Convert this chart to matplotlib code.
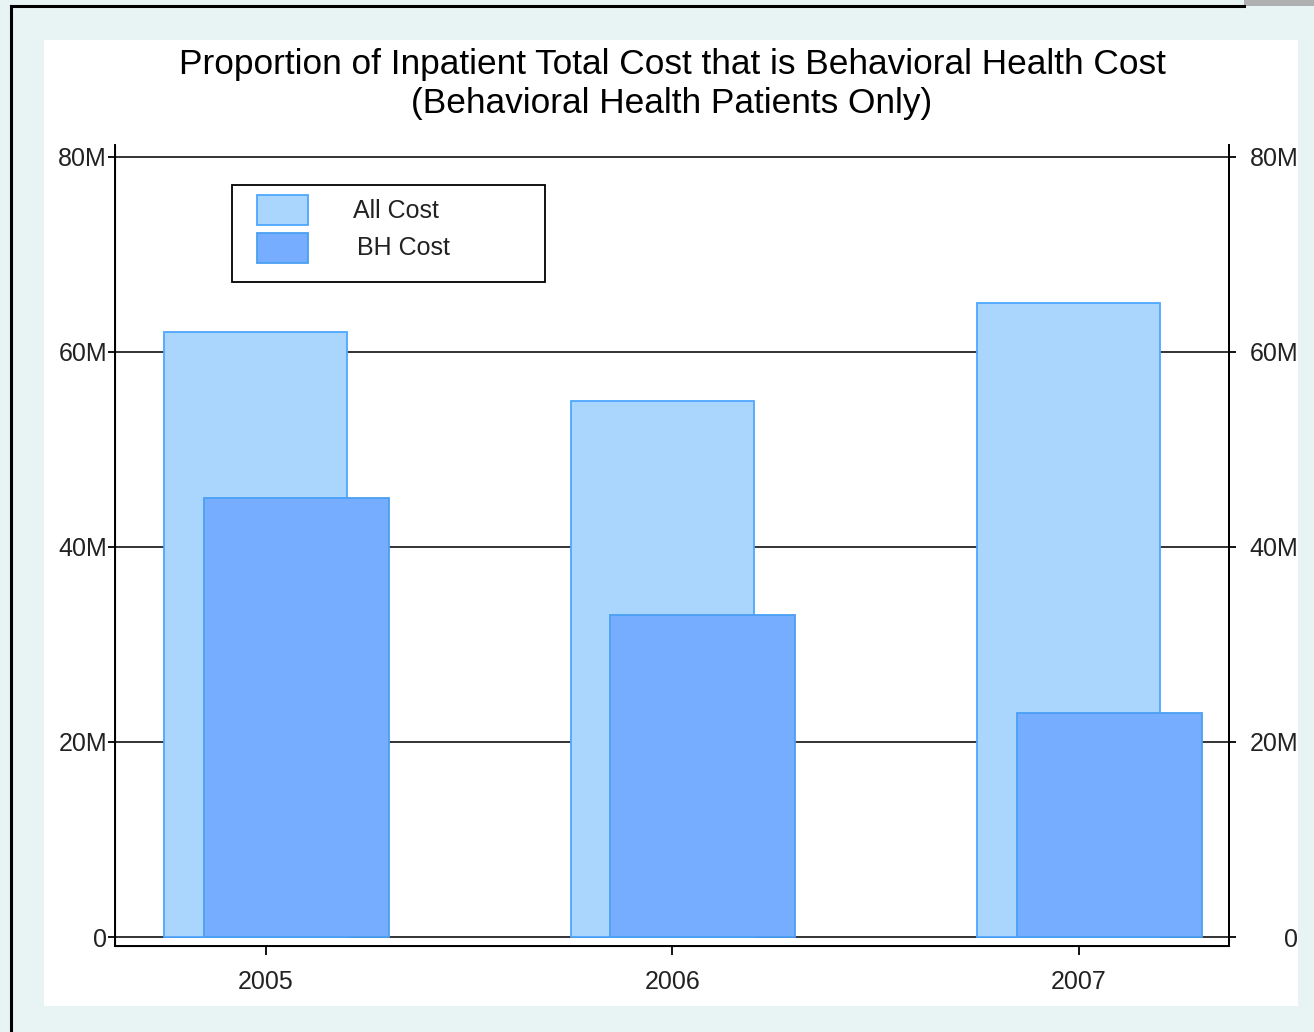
import numpy as np
import matplotlib
matplotlib.use("Agg")
import matplotlib.pyplot as plt
from matplotlib.patches import Rectangle
from matplotlib.lines import Line2D

plt.rcParams['font.family'] = ['Liberation Sans', 'DejaVu Sans']

# Data (values in dollars)
years = ['2005', '2006', '2007']
all_cost = [62e6, 55e6, 65e6]
bh_cost = [45e6, 33e6, 23e6]
series_names = ['All Cost', 'BH Cost']
fill_colors = ['#aad5fc', '#76adff']
edge_colors = ['#4ea7ff', '#4a9ff5']
ytick_vals = [0, 20e6, 40e6, 60e6, 80e6]
ytick_labels = ['0', '20M', '40M', '60M', '80M']

W, H = 1314, 1032
fig = plt.figure(figsize=(W / 100, H / 100), dpi=100)
fig.patch.set_facecolor('#e8f4f4')

# white panel and the window-like border
fig.add_artist(Rectangle((44 / W, 1 - 1006 / H), (1298 - 44) / W, (1006 - 40) / H,
                         transform=fig.transFigure, facecolor='white',
                         edgecolor='none', zorder=0))
fig.add_artist(Line2D([11 / W, 11 / W], [0, 1 - 6 / H], color='black', lw=2.2,
                      transform=fig.transFigure))
fig.add_artist(Line2D([11 / W, 1244 / W], [1 - 6 / H, 1 - 6 / H], color='black', lw=2.2,
                      transform=fig.transFigure))
fig.add_artist(Rectangle((1244 / W, 1 - 6 / H), 70 / W, 6 / H, transform=fig.transFigure,
                         facecolor='#b0b0b0', edgecolor='none'))

fig.text(672 / W, 1 - 84 / H,
         'Proportion of Inpatient Total Cost that is Behavioral Health Cost\n'
         '(Behavioral Health Patients Only)',
         ha='center', va='center', fontsize=25.4, linespacing=1.25, color='black')

ax = fig.add_axes([115 / W, 86 / H, 1114 / W, 801 / H])
x = np.arange(len(years))

ax.bar(x - 0.025, all_cost, width=0.45, color=fill_colors[0],
       edgecolor=edge_colors[0], linewidth=1.3, zorder=2)
ax.bar(x + 0.075, bh_cost, width=0.455, color=fill_colors[1],
       edgecolor=edge_colors[1], linewidth=1.3, zorder=3)

ax.set_xlim(-0.371, 2.369)
ax.set_ylim(-0.92e6, 81.2e6)
ax.set_xticks(x)
ax.set_xticklabels(years)
ax.set_yticks(ytick_vals)
ax.set_yticklabels(ytick_labels)
ax.yaxis.grid(True, color='#333333', linewidth=1.4)
ax.set_axisbelow(True)

ax.spines['top'].set_visible(False)
for s in ['left', 'right', 'bottom']:
    ax.spines[s].set_linewidth(1.4)
    ax.spines[s].set_color('black')

ax.tick_params(axis='x', direction='out', length=6.5, width=1.3, pad=10.5,
               labelsize=18, labelcolor='#222222')
ax.tick_params(axis='y', direction='out', length=5, width=1.3, pad=0.7,
               labelsize=18, labelcolor='#222222', right=False)

ax2 = ax.twinx()
ax2.set_ylim(ax.get_ylim())
ax2.set_yticks(ytick_vals)
ax2.set_yticklabels(ytick_labels)
ax2.spines['top'].set_visible(False)
ax2.spines['right'].set_linewidth(1.4)
ax2.tick_params(axis='y', direction='out', length=5, width=1.3, pad=45,
                labelsize=18, labelcolor='#222222')
for lab in ax2.get_yticklabels():
    lab.set_horizontalalignment('right')

# legend box drawn in axes pixel space
ax_x0, ax_y0 = 115, 946
def px(xp, yp):
    return ((xp - ax_x0) / 1114, (ax_y0 - yp) / 801)

bx, by = px(232, 282)
ax.add_patch(Rectangle((bx, by), 313 / 1114, 97 / 801, transform=ax.transAxes,
                       facecolor='white', edgecolor='black', linewidth=1.3, zorder=5))
for i, name in enumerate(series_names):
    top = 195 + i * 38
    hx, hy = px(257, top + 30)
    ax.add_patch(Rectangle((hx, hy), 51 / 1114, 30 / 801, transform=ax.transAxes,
                           facecolor=fill_colors[i], edgecolor=edge_colors[i],
                           linewidth=1.3, zorder=6))
    tx, ty = px(353 + 4 * i, top + 16 - i)
    ax.text(tx, ty, name, transform=ax.transAxes, ha='left', va='center',
            fontsize=18, color='#222222', zorder=6)

fig.savefig('out.png', dpi=100, facecolor=fig.get_facecolor())
